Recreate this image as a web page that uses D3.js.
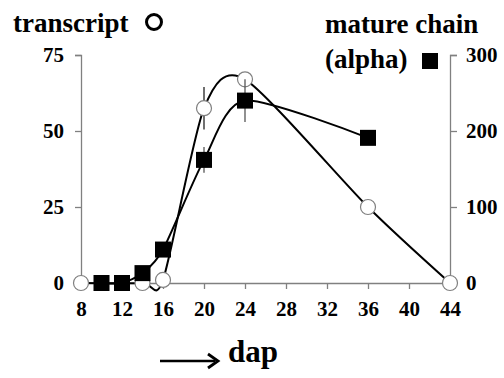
<!DOCTYPE html>
<meta charset="utf-8">
<style>
body { margin: 0; background: #fff; }
.axis path, .axis line { stroke: #808080; stroke-width: 1.3px; }
.line { fill: none; stroke: #000; stroke-width: 2px; }
</style>
<svg id="chart" width="504" height="378"></svg>
<script src="https://cdn.jsdelivr.net/npm/d3@7/dist/d3.min.js"></script>
<script>
// days after pollination
var xTicks = [8, 12, 16, 20, 24, 28, 32, 36, 40, 44];
var leftTicks = [0, 25, 50, 75];
var rightTicks = [0, 100, 200, 300];

// transcript (open circles, left axis)
var transDap = [8, 14, 16, 20, 24, 36, 44];
var transVal = [0, 0, 1, 57.5, 67, 25, 0];
var transErr = [0, 0, 0, 7, 2, 0, 0];

// mature chain alpha (filled squares, right axis)
var chainDap = [10, 12, 14, 16, 20, 24, 36];
var chainVal = [0, 0, 13, 44, 162, 240, 191];
var chainErr = [0, 0, 0, 0, 17, 28, 0];

var svg = d3.select("#chart");

var x = d3.scaleLinear().domain([8, 44]).range([81, 450]);
var yL = d3.scaleLinear().domain([0, 75]).range([283, 55]);
var yR = d3.scaleLinear().domain([0, 300]).range([283, 55]);

var serif = "'Liberation Serif'";
function styleText(sel, size) {
  sel.style("font-family", serif).style("font-weight", "bold")
     .style("font-size", size).style("fill", "#000");
}

// axes
var gx = svg.append("g").attr("class", "axis")
    .attr("transform", "translate(0," + yL(0) + ")")
    .call(d3.axisBottom(x).tickValues(xTicks).tickSize(6).tickSizeOuter(0).tickPadding(12));
styleText(gx.selectAll("text"), "21px");
gx.selectAll(".tick").filter(function(d) { return d === 8 || d === 44; }).select("line").remove();

var gl = svg.append("g").attr("class", "axis")
    .attr("transform", "translate(" + x(8) + ",0)")
    .call(d3.axisLeft(yL).tickValues(leftTicks).tickSize(6).tickSizeOuter(6).tickPadding(11));
styleText(gl.selectAll("text"), "21px");
gl.selectAll(".tick").filter(function(d) { return d === 0; }).select("line").remove();

var gr = svg.append("g").attr("class", "axis")
    .attr("transform", "translate(" + x(44) + ",0)")
    .call(d3.axisRight(yR).tickValues(rightTicks).tickSize(7).tickSizeOuter(7).tickPadding(9));
styleText(gr.selectAll("text"), "21px");
gr.selectAll(".tick").filter(function(d) { return d === 0; }).select("line").remove();
svg.selectAll(".axis .domain").attr("fill", "none");

var trans = transDap.map(function(d, i) { return {x: d, y: transVal[i], e: transErr[i]}; });
var chain = chainDap.map(function(d, i) { return {x: d, y: chainVal[i], e: chainErr[i]}; });

var lineL = d3.line().curve(d3.curveCardinal.tension(0.25))
    .x(function(d) { return x(d.x); }).y(function(d) { return yL(d.y); });
var lineR = d3.line().curve(d3.curveCardinal.tension(0.25))
    .x(function(d) { return x(d.x); }).y(function(d) { return yR(d.y); });

svg.append("path").datum(trans).attr("class", "line").attr("d", lineL);
svg.append("path").datum(chain).attr("class", "line").attr("d", lineR);

// error bars for transcript (behind circles)
svg.selectAll(".errL").data(trans.filter(function(d) { return d.e > 0; }))
  .enter().append("line")
    .attr("x1", function(d) { return x(d.x); }).attr("x2", function(d) { return x(d.x); })
    .attr("y1", function(d) { return yL(d.y - d.e); }).attr("y2", function(d) { return yL(d.y + d.e); })
    .attr("stroke", "#222").attr("stroke-width", 1.3);

svg.selectAll(".dotL").data(trans)
  .enter().append("circle")
    .attr("cx", function(d) { return x(d.x); })
    .attr("cy", function(d) { return yL(d.y); })
    .attr("r", 7.5)
    .attr("fill", "#fff").attr("stroke", "#808080").attr("stroke-width", 1.2);

svg.selectAll(".errR").data(chain.filter(function(d) { return d.e > 0; }))
  .enter().append("line")
    .attr("x1", function(d) { return x(d.x); }).attr("x2", function(d) { return x(d.x); })
    .attr("y1", function(d) { return yR(d.y - d.e); }).attr("y2", function(d) { return yR(d.y + d.e); })
    .attr("stroke", "#555").attr("stroke-width", 1.3);

svg.selectAll(".dotR").data(chain)
  .enter().append("rect")
    .attr("x", function(d) { return x(d.x) - 8; })
    .attr("y", function(d) { return yR(d.y) - 8; })
    .attr("width", 16).attr("height", 16)
    .attr("fill", "#000");

// titles
styleText(svg.append("text").attr("x", 13).attr("y", 32).text("transcript"), "27px");
svg.append("circle").attr("cx", 154).attr("cy", 22).attr("r", 7.5)
    .attr("fill", "none").attr("stroke", "#000").attr("stroke-width", 3);

styleText(svg.append("text").attr("x", 325).attr("y", 33).text("mature chain"), "27px");
styleText(svg.append("text").attr("x", 325).attr("y", 68).text("(alpha)"), "27px");
svg.append("rect").attr("x", 422).attr("y", 53).attr("width", 16).attr("height", 16).attr("fill", "#000");

// x label with arrow
svg.append("line").attr("x1", 160).attr("x2", 215).attr("y1", 361).attr("y2", 361)
    .attr("stroke", "#000").attr("stroke-width", 2.6);
svg.append("path").attr("d", "M208,354 L218,361 L208,368")
    .attr("fill", "none").attr("stroke", "#000").attr("stroke-width", 2.8);
styleText(svg.append("text").attr("x", 228).attr("y", 362).text("dap"), "31px");
</script>
